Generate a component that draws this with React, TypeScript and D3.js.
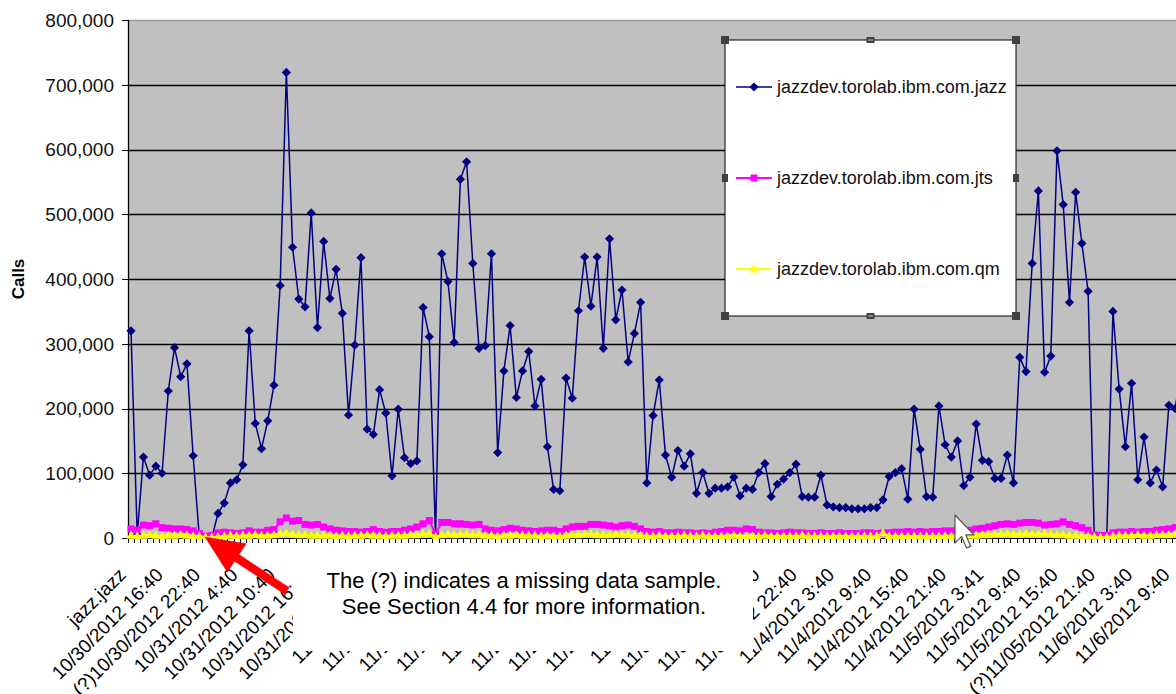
import React from 'react';
import * as d3 from 'd3';

// Category tick labels (every 6th category)
const tickLabels: string[] = [
  'jazz.jazz', '10/30/2012 16:40', '(?)10/30/2012 22:40', '10/31/2012 4:40', '10/31/2012 10:40',
  '10/31/2012 16:40', '10/31/2012 22:40', '11/1/2012 4:40', '11/1/2012 10:40', '11/1/2012 16:40',
  '11/1/2012 22:40', '11/2/2012 4:40', '11/2/2012 10:40', '11/2/2012 16:40', '11/2/2012 22:40',
  '11/3/2012 4:40', '11/3/2012 10:40', '11/3/2012 16:40', '11/3/2012 22:40', '11/4/2012 3:40',
  '11/4/2012 9:40', '11/4/2012 15:40', '11/4/2012 21:40', '11/5/2012 3:41', '11/5/2012 9:40',
  '11/5/2012 15:40', '(?)11/05/2012 21:40', '11/6/2012 3:40', '11/6/2012 9:40',
];
const labelEvery = 6;

// Series values, thousands of calls
const jazz: number[] = [
  320, 5, 125, 97, 111, 100, 227, 294, 249, 269,
  127, 0, 0, 0, 38, 54, 85, 90, 113, 320,
  177, 138, 181, 236, 390, 719, 449, 369, 357, 502,
  325, 458, 370, 415, 347, 190, 298, 433, 168, 160,
  229, 193, 96, 199, 124, 115, 119, 356, 311, 5,
  439, 396, 302, 554, 581, 424, 293, 297, 439, 132,
  258, 328, 217, 258, 288, 204, 245, 141, 75, 73,
  247, 216, 351, 434, 358, 434, 293, 462, 337, 383,
  272, 316, 364, 85, 189, 244, 128, 94, 135, 111,
  130, 69, 101, 69, 77, 77, 79, 94, 65, 77,
  75, 101, 115, 64, 83, 91, 101, 114, 64, 63,
  63, 97, 51, 48, 47, 47, 45, 45, 45, 47,
  47, 59, 95, 101, 107, 60, 199, 137, 64, 63,
  204, 144, 125, 150, 81, 94, 176, 120, 118, 92,
  92, 128, 85, 279, 257, 424, 536, 256, 281, 598,
  515, 364, 534, 455, 381, 0, 0, 0, 350, 230,
  141, 239, 90, 156, 85, 105, 79, 205, 200, 260,
];
const jts: number[] = [
  14, 12, 20, 19, 22, 16, 15, 14, 14, 13,
  11, 7, 3, 4, 8, 9, 8, 7, 8, 11,
  9, 9, 12, 13, 25, 31, 26, 27, 21, 20,
  21, 17, 14, 12, 11, 10, 10, 9, 10, 13,
  10, 9, 10, 10, 12, 14, 17, 22, 27, 6,
  24, 24, 22, 22, 21, 20, 21, 14, 12, 11,
  13, 15, 14, 12, 11, 10, 11, 12, 12, 10,
  14, 17, 18, 18, 21, 21, 20, 19, 17, 19,
  20, 18, 14, 10, 9, 10, 8, 8, 9, 8,
  8, 7, 8, 7, 9, 10, 12, 12, 11, 14,
  13, 9, 8, 8, 7, 8, 9, 8, 8, 7,
  7, 8, 7, 7, 8, 7, 7, 7, 8, 8,
  7, 8, 8, 9, 9, 10, 9, 10, 9, 10,
  10, 11, 11, 12, 11, 12, 14, 15, 17, 19,
  21, 22, 21, 23, 24, 24, 23, 20, 21, 22,
  25, 21, 19, 16, 12, 5, 4, 4, 8, 9,
  9, 10, 9, 10, 10, 12, 13, 14, 16, 17,
];
const qm: number[] = [
  4, 3, 4, 5, 4, 3, 4, 4, 5, 4,
  3, 3, 1, 1, 2, 3, 4, 3, 4, 4,
  5, 4, 4, 5, 6, 8, 6, 5, 5, 4,
  4, 4, 4, 3, 4, 3, 4, 4, 5, 4,
  4, 3, 4, 4, 4, 5, 5, 6, 7, 2,
  5, 6, 5, 6, 6, 5, 5, 4, 4, 3,
  4, 4, 5, 4, 4, 4, 3, 4, 3, 3,
  4, 5, 5, 6, 6, 5, 5, 5, 6, 5,
  5, 4, 4, 3, 3, 4, 3, 3, 3, 4,
  3, 3, 4, 3, 3, 3, 3, 4, 3, 3,
  3, 3, 4, 3, 3, 3, 3, 3, 4, 3,
  3, 3, 3, 3, 3, 3, 3, 3, 3, 3,
  3, 8, 3, 3, 3, 3, 3, 3, 3, 3,
  3, 3, 3, 3, 4, 4, 4, 5, 5, 6,
  6, 7, 6, 6, 7, 6, 6, 7, 6, 5,
  5, 4, 4, 3, 3, 2, 1, 1, 3, 4,
  4, 4, 5, 4, 4, 5, 5, 5, 6, 6,
];
const seriesNames = ['jazzdev.torolab.ibm.com.jazz', 'jazzdev.torolab.ibm.com.jts', 'jazzdev.torolab.ibm.com.qm'];
const yTicks: number[] = [0, 100000, 200000, 300000, 400000, 500000, 600000, 700000, 800000];
const noteLines = ['The (?) indicates a missing data sample.', 'See Section 4.4 for more information.'];

const FONT = "'Liberation Sans', Arial, Helvetica, sans-serif";
const NAVY = '#000080';
const MAGENTA = '#FF00FF';
const YELLOW = '#FFFF00';

const diamond = 'M0,-4.6L4.6,0L0,4.6L-4.6,0Z';
const square = 'M-3.5,-3.5H3.5V3.5H-3.5Z';
const triangle = 'M0,-4.8L4.4,3.4H-4.4Z';

export default function App() {
  const W = 1176;
  const H = 694;
  const left = 128;
  const top = 20;
  const bottom = 538;
  const x = d3.scaleLinear().domain([0, 168]).range([131, 1175.1]);
  const y = d3.scaleLinear().domain([0, 800000]).range([bottom, top]);
  const step = x(1) - x(0);

  const mkLine = d3
    .line<number>()
    .x((_, i) => x(i))
    .y((d) => y(d * 1000));

  const series = [
    { vals: jazz, color: NAVY, marker: diamond, width: 1.5 },
    { vals: jts, color: MAGENTA, marker: square, width: 2 },
    { vals: qm, color: YELLOW, marker: triangle, width: 2 },
  ];

  const fmt = d3.format(',');
  const nCats = jazz.length;

  // red arrow geometry (annotation)
  const tip = [205, 537];
  const tail = [287, 591];
  const dx = tip[0] - tail[0];
  const dy = tip[1] - tail[1];
  const len = Math.hypot(dx, dy);
  const ux = dx / len;
  const uy = dy / len;
  const nx = -uy;
  const ny = ux;
  const headLen = 38;
  const headW = 17;
  const shaftW = 4;
  const bx = tip[0] - ux * headLen;
  const by = tip[1] - uy * headLen;
  const arrowPts = [
    [tail[0] + nx * shaftW, tail[1] + ny * shaftW],
    [bx + nx * shaftW, by + ny * shaftW],
    [bx + nx * headW, by + ny * headW],
    [tip[0], tip[1]],
    [bx - nx * headW, by - ny * headW],
    [bx - nx * shaftW, by - ny * shaftW],
    [tail[0] - nx * shaftW, tail[1] - ny * shaftW],
  ]
    .map((p) => p.join(','))
    .join(' ');

  const cursorPts = [
    [0, 0], [0, 17], [4, 13], [7, 20], [9.5, 19], [6.5, 12], [11.5, 12],
  ]
    .map((p) => `${p[0] * 1.65},${p[1] * 1.65}`)
    .join(' ');

  const legendX = 725;
  const legendY = 40;
  const legendW = 291;
  const legendH = 276;
  const legendRows = [87, 178, 269];

  const handle = (cx: number, cy: number, w: number, h: number, key: string) => (
    <g key={key}>
      <rect x={cx - w / 2} y={cy - h / 2} width={w} height={h} fill="#404040" />
      <rect x={cx - w / 2 + 1.5} y={cy - 0.5} width={w - 3} height={1} fill="#c8c8c8" />
    </g>
  );

  return (
    <svg
      width={W}
      height={H}
      style={{ position: 'absolute', left: 0, top: 0, background: '#fff' }}
      fontFamily={FONT}
    >
      <defs>
        <clipPath id="plotClip">
          <rect x={left - 6} y={0} width={W - left + 6} height={bottom + 1} />
        </clipPath>
      </defs>
      <rect x={0} y={0} width={W} height={H} fill="#fff" />
      {/* plot area */}
      <rect x={left} y={top} width={W - left} height={bottom - top} fill="#C0C0C0" />
      <line x1={left} x2={W} y1={top + 0.5} y2={top + 0.5} stroke="#9a9a9a" strokeWidth={1.5} />
      {yTicks
        .filter((t) => t > 0 && t < 800000)
        .map((t) => (
          <line
            key={'g' + t}
            x1={left}
            x2={W}
            y1={Math.round(y(t)) + 0.5}
            y2={Math.round(y(t)) + 0.5}
            stroke="#000"
            strokeWidth={1.3}
          />
        ))}
      {/* y axis */}
      <line x1={left + 0.5} x2={left + 0.5} y1={top} y2={bottom} stroke="#000" strokeWidth={1.3} />
      {yTicks.map((t) => (
        <g key={'yt' + t}>
          <line x1={122} x2={left} y1={Math.round(y(t)) + 0.5} y2={Math.round(y(t)) + 0.5} stroke="#000" />
          <text x={114} y={y(t)} dy="0.36em" textAnchor="end" fontSize={19} fill="#111">
            {fmt(t)}
          </text>
        </g>
      ))}
      <text
        transform={`translate(24,${279}) rotate(-90)`}
        textAnchor="middle"
        fontSize={17}
        fontWeight="bold"
        fill="#000"
      >
        Calls
      </text>
      {/* x axis */}
      <line x1={left} x2={W} y1={bottom + 0.5} y2={bottom + 0.5} stroke="#000" />
      {d3.range(nCats + 1).map((i) => (
        <line
          key={'xt' + i}
          x1={Math.round(x(i) - step / 2) + 0.5}
          x2={Math.round(x(i) - step / 2) + 0.5}
          y1={539}
          y2={543}
          stroke="#000"
        />
      ))}
      {/* series */}
      <g clipPath="url(#plotClip)">
        {series.map((s, si) => (
          <g key={'s' + si}>
            <path d={mkLine(s.vals) || ''} fill="none" stroke={s.color} strokeWidth={s.width} />
            {s.vals.map((v, i) => (
              <path
                key={i}
                d={s.marker}
                transform={`translate(${x(i)},${y(v * 1000)})`}
                fill={s.color}
              />
            ))}
          </g>
        ))}
      </g>
      {/* category labels */}
      {tickLabels.map((lab, k) => {
        const ax = x(k * labelEvery) - 4;
        const ay = 576;
        return (
          <text
            key={'xl' + k}
            x={ax}
            y={ay}
            transform={`rotate(-45,${ax},${ay})`}
            textAnchor="end"
            fontSize={19}
            fill="#000"
          >
            {lab}
          </text>
        );
      })}
      {/* legend */}
      <rect x={legendX} y={legendY} width={legendW} height={legendH} fill="#fff" stroke="#000" strokeWidth={1} />
      {series.map((s, si) => (
        <g key={'lg' + si}>
          <line x1={736} x2={772} y1={legendRows[si]} y2={legendRows[si]} stroke={s.color} strokeWidth={s.width} />
          <path d={s.marker} transform={`translate(754,${legendRows[si]})`} fill={s.color} />
          <text x={777} y={legendRows[si]} dy="0.36em" fontSize={18} fill="#111">
            {seriesNames[si]}
          </text>
        </g>
      ))}
      {[
        [legendX, legendY],
        [legendX + legendW, legendY],
        [legendX, legendY + legendH],
        [legendX + legendW, legendY + legendH],
      ].map((p, i) => (
        <rect key={'c' + i} x={p[0] - 4} y={p[1] - 4} width={8} height={8} fill="#404040" />
      ))}
      {handle(legendX + legendW / 2, legendY, 8, 6, 'ht')}
      {handle(legendX + legendW / 2, legendY + legendH, 8, 6, 'hb')}
      <rect x={legendX - 3} y={legendY + legendH / 2 - 4} width={6} height={8} fill="#404040" />
      <rect x={legendX + legendW - 3} y={legendY + legendH / 2 - 4} width={6} height={8} fill="#404040" />
      {/* note text box */}
      <rect x={293} y={552} width={460} height={99} fill="#fff" />
      {noteLines.map((t, i) => (
        <text key={'n' + i} x={524} y={588 + i * 26} textAnchor="middle" fontSize={22} fill="#000">
          {t}
        </text>
      ))}
      {/* red arrow */}
      <polygon points={arrowPts} fill="#FF0000" stroke="#e00000" strokeWidth={0.5} />
      {/* mouse cursor */}
      <g transform="translate(955,515)">
        <polygon points={cursorPts} fill="#fff" stroke="#555" strokeWidth={1.2} strokeLinejoin="round" />
      </g>
    </svg>
  );
}
